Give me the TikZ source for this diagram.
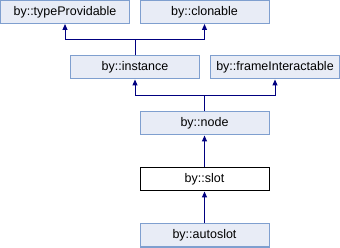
\documentclass[tikz,border=0pt]{standalone}
\usepackage{fontspec}
\setmainfont{Liberation Sans}
\usetikzlibrary{arrows.meta}
\definecolor{boxfill}{HTML}{E8ECF6}
\definecolor{boxline}{HTML}{7F9FCF}
\definecolor{navy}{HTML}{000080}
\tikzset{
  cls/.style={draw=boxline, fill=boxfill, line width=1pt, minimum width=129pt, minimum height=23pt, inner sep=0pt, font=\fontsize{12.5}{14}\selectfont},
  cur/.style={cls, draw=black, fill=white},
  conn/.style={draw=navy, line width=1pt},
  tip/.style={-{Triangle[width=5pt,length=6pt]}}
}
\begin{document}
\begin{tikzpicture}[x=1pt,y=-1pt]
\useasboundingbox (0,0) rectangle (340,248);
\node[cls] (tp) at (65,12) {by::typeProvidable};
\node[cls] (cl) at (204.5,12) {by::clonable};
\node[cls] (in) at (135,67.5) {by::instance};
\node[cls] (fi) at (275,67.5) {by::frameInteractable};
\node[cls] (nd) at (204.5,123.5) {by::node};
\node[cur] (sl) at (204.5,179.5) {by::slot};
\node[cls] (as) at (204.5,235.5) {by::autoslot};
\coordinate (j1) at (135,40);
\coordinate (j2) at (204.5,96);
\draw[conn] (in.north) -- (j1);
\draw[conn,tip] (j1) -| (tp.south);
\draw[conn,tip] (j1) -| (cl.south);
\draw[conn] (nd.north) -- (j2);
\draw[conn,tip] (j2) -| (in.south);
\draw[conn,tip] (j2) -| (fi.south);
\draw[conn,tip] (sl.north) -- (nd.south);
\draw[conn,tip] (as.north) -- (sl.south);
\end{tikzpicture}
\end{document}
